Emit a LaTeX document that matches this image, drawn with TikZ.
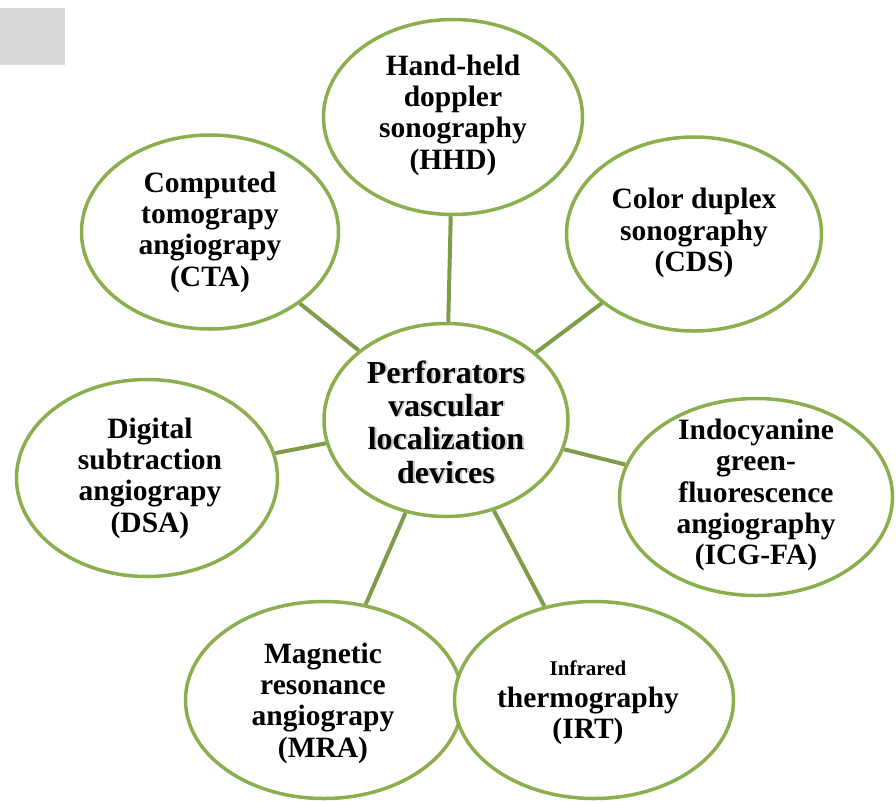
\documentclass[tikz,border=0pt]{standalone}
\usepackage{fontspec}
\setmainfont{Liberation Serif}
\usetikzlibrary{shapes.geometric,calc}
\definecolor{bubgreen}{HTML}{8BAE4E}
\definecolor{linkgreen}{HTML}{7F9C4A}
\definecolor{boxgray}{HTML}{D9D9D9}
\pgfdeclarelayer{bg}
\pgfsetlayers{bg,main}
\begin{document}
\begin{tikzpicture}[x=1pt,y=-1pt,
  bub/.style={ellipse, draw=bubgreen, line width=3.5pt, fill=white, inner sep=0pt},
  btxt/.style={align=center, font=\bfseries\fontsize{29.5}{31.3}\selectfont, inner sep=0pt},
  ctxt/.style={align=center, font=\bfseries\fontsize{32}{33.3}\selectfont, inner sep=0pt},
  link/.style={draw=linkgreen, line width=4pt}]
\useasboundingbox (0,0) rectangle (896,803);
\fill[boxgray] (0,8) rectangle (65,65);
% bubbles
\node[bub, minimum width=244pt, minimum height=193pt] (c) at (446,420) {};
\node[bub, minimum width=259pt, minimum height=195pt] (hhd) at (453,117) {};
\node[bub, minimum width=257pt, minimum height=194pt] (cta) at (210,232) {};
\node[bub, minimum width=255pt, minimum height=194pt] (cds) at (694,234) {};
\node[bub, minimum width=261pt, minimum height=197pt] (dsa) at (147,478) {};
\node[bub, minimum width=273pt, minimum height=197pt] (icg) at (756,497) {};
\node[bub, minimum width=277pt, minimum height=197pt] (mra) at (324,700) {};
\node[bub, minimum width=279pt, minimum height=197pt] (irt) at (594,700) {};
% connectors
\begin{pgfonlayer}{bg}
\draw[link] (c) -- (hhd);
\draw[link] (c) -- (cta);
\draw[link] (c) -- (cds);
\draw[link] (c) -- (dsa);
\draw[link] (c) -- (icg);
\draw[link] (c) -- (mra);
\draw[link] (c) -- (irt);
\end{pgfonlayer}
% texts
\node[ctxt, text=black!25, opacity=0.8] (cshadow) at ($(c.center)+(2,2.5)$) {Perforators\\vascular\\localization\\devices};
\node[ctxt] (ct) at ($(c.center)+(0,2)$) {Perforators\\vascular\\localization\\devices};
\node[btxt] (hhdt) at (453,115) {Hand-held\\doppler\\sonography\\(HHD)};
\node[btxt] (ctat) at (210,232) {Computed\\tomograpy\\angiograpy\\(CTA)};
\node[btxt] (cdst) at (694,233) {Color duplex\\sonography\\(CDS)};
\node[btxt] (dsat) at (150,478) {Digital\\subtraction\\angiograpy\\(DSA)};
\node[btxt] (icgt) at (756,495) {Indocyanine\\green-\\fluorescence\\angiography\\(ICG-FA)};
\node[btxt] (mrat) at (323,703) {Magnetic\\resonance\\angiograpy\\(MRA)};
\node[btxt] (irtt) at (588,703) {{\fontsize{21}{24}\selectfont Infrared}\\thermography\\(IRT)};
\end{tikzpicture}
\end{document}
